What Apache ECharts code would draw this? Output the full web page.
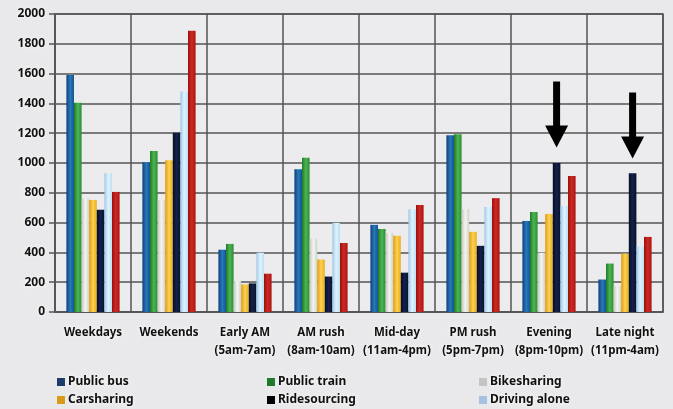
<!DOCTYPE html>
<html>
<head>
<meta charset="utf-8">
<script src="https://cdn.jsdelivr.net/npm/echarts@6/dist/echarts.min.js"></script>
<style>
  html, body { margin: 0; padding: 0; background: #e9e9eb; }
  #chart { width: 673px; height: 409px; }
</style>
</head>
<body>
<div id="chart"></div>
<script>
const categories = ['Weekdays', 'Weekends', 'Early AM\n(5am-7am)', 'AM rush\n(8am-10am)',
  'Mid-day\n(11am-4pm)', 'PM rush\n(5pm-7pm)', 'Evening\n(8pm-10pm)', 'Late night\n(11pm-4am)'];

const publicBus    = [1590, 1005, 418, 958, 585, 1186, 611, 218];
const publicTrain  = [1405, 1080, 457, 1035, 557, 1193, 671, 325];
const bikesharing  = [762, 752, 210, 492, 530, 691, 398, 175];
const carsharing   = [752, 1018, 185, 352, 512, 538, 658, 392];
const ridesourcing = [686, 1203, 192, 238, 264, 444, 1000, 932];
const drivingAlone = [932, 1480, 398, 598, 690, 705, 712, 438];
const other        = [806, 1888, 257, 463, 718, 764, 912, 504];

// arrows point at the ridesourcing bars (value = middle of the arrow)
const arrowMarks = [[6, 1326], [7, 1252]];

const font = "'Noto Sans', sans-serif";
const halo = { textShadowColor: '#fff', textShadowBlur: 5 };

const grad = (a, b, c) => new echarts.graphic.LinearGradient(0, 0, 1, 0, [
  { offset: 0, color: a }, { offset: 0.5, color: b }, { offset: 1, color: c }
]);

const seriesDefs = [
  { name: 'Public bus', data: publicBus, color: grad('#0c3f78', '#2a78bb', '#13558f'), legend: '#1b3b6b' },
  { name: 'Public train', data: publicTrain, color: grad('#1d7a2a', '#4db552', '#2a8c33'), legend: '#1d7a2a' },
  { name: 'Bikesharing', data: bikesharing, color: grad('#c4c7bf', '#f4f5f0', '#cfd1ca'), legend: '#c4c4c4' },
  { name: 'Carsharing', data: carsharing, color: grad('#dc9a14', '#ffd24e', '#e8ac25'), legend: '#d99a18' },
  { name: 'Ridesourcing', data: ridesourcing, color: grad('#050d26', '#14224a', '#08122e'), legend: '#000000' },
  { name: 'Driving alone', data: drivingAlone, color: grad('#a0c6e6', '#dff3fd', '#bcdff3'), legend: '#a3c2e2' },
  { name: 'Other', data: other, color: grad('#9a0f0f', '#cf2a22', '#a81414'), legend: '#b01818' }
];

const chart = echarts.init(document.getElementById('chart'));

const legendStyle = {
  orient: 'vertical',
  top: 375,
  height: 40,
  itemWidth: 8,
  itemHeight: 8,
  itemGap: 4,
  icon: 'rect',
  padding: 0,
  textStyle: Object.assign({ fontFamily: font, fontWeight: 'bold', fontSize: 12, lineHeight: 14, color: '#111', padding: [0, 0, 0, -2] }, halo)
};
const legendItem = (i) => ({ name: seriesDefs[i].name, itemStyle: { color: seriesDefs[i].legend } });

chart.setOption({
  backgroundColor: '#e9e9eb',
  animation: false,
  grid: { left: 55, right: 10, top: 14, bottom: 97, show: true, backgroundColor: '#ececee', borderColor: '#555', borderWidth: 1.5 },
  legend: [
    Object.assign({ left: 57, data: [legendItem(0), legendItem(3)] }, legendStyle),
    Object.assign({ left: 267, data: [legendItem(1), legendItem(4)] }, legendStyle),
    Object.assign({ left: 479, data: [legendItem(2), legendItem(5)] }, legendStyle)
  ],
  xAxis: {
    type: 'category',
    data: categories,
    axisLine: { lineStyle: { color: '#555', width: 1.5 } },
    axisTick: { show: false },
    splitLine: { show: true, interval: 0, lineStyle: { color: '#555', width: 1.5 } },
    axisLabel: Object.assign({
      interval: 0, margin: 12, lineHeight: 18,
      fontFamily: font, fontWeight: 'bold', fontSize: 11.5, color: '#111'
    }, halo)
  },
  yAxis: {
    type: 'value',
    min: 0,
    max: 2000,
    interval: 200,
    axisLine: { show: true, lineStyle: { color: '#555', width: 1.5 } },
    axisTick: { show: true, length: 6, lineStyle: { color: '#555', width: 1.5 } },
    splitLine: { lineStyle: { color: '#555', width: 1.5 } },
    axisLabel: Object.assign({
      margin: 10, fontFamily: font, fontWeight: 'bold', fontSize: 12, color: '#111',
      formatter: v => String(v)
    }, halo)
  },
  series: seriesDefs.map((s) => {
    const item = {
      name: s.name,
      type: 'bar',
      data: s.data,
      barGap: '0%',
      barCategoryGap: '30%',
      itemStyle: { color: s.color }
    };
    if (s.name === 'Ridesourcing') {
      item.markPoint = {
        symbol: 'path://M8,0 L15,0 L15,44 L23,44 L11.5,66 L0,44 L8,44 Z',
        symbolSize: [23, 66],
        symbolKeepAspect: false,
        silent: true,
        label: { show: false },
        itemStyle: { color: '#000' },
        data: arrowMarks.map(a => ({ coord: [a[0], a[1]] }))
      };
    }
    return item;
  })
});
</script>
</body>
</html>
